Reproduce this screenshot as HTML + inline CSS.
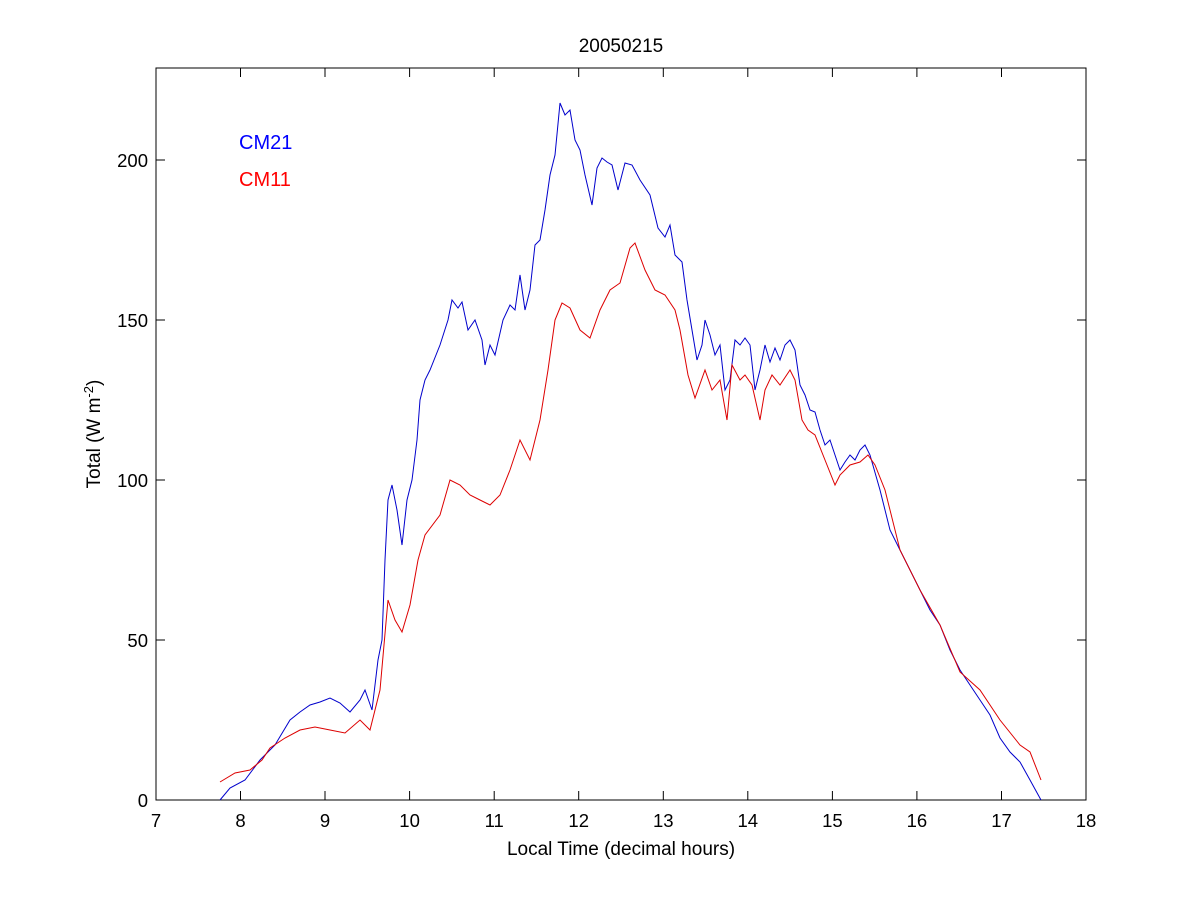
<!DOCTYPE html>
<html><head><style>body{margin:0;background:#fff}svg{display:block}text{font-family:"Liberation Sans",Arial,sans-serif}</style></head>
<body>
<svg width="1200" height="900" xmlns="http://www.w3.org/2000/svg">
<rect width="1200" height="900" fill="#fff"/>
<rect x="156" y="68" width="930" height="732" fill="none" stroke="#000" stroke-width="1"/>
<g stroke="#000" stroke-width="1">
<path d="M156 800v-9M240.5 800v-9M325 800v-9M409.6 800v-9M494.2 800v-9M578.7 800v-9M663.3 800v-9M747.8 800v-9M832.4 800v-9M916.9 800v-9M1001.5 800v-9M1086 800v-9"/>
<path d="M156 68v9M240.5 68v9M325 68v9M409.6 68v9M494.2 68v9M578.7 68v9M663.3 68v9M747.8 68v9M832.4 68v9M916.9 68v9M1001.5 68v9M1086 68v9"/>
<path d="M156 800h9M156 640h9M156 480h9M156 320h9M156 160h9M1086 800h-9M1086 640h-9M1086 480h-9M1086 320h-9M1086 160h-9"/>
</g>
<g font-size="18.5" text-anchor="middle" fill="#000">
<text x="156" y="827">7</text><text x="240.5" y="827">8</text><text x="325" y="827">9</text><text x="409.6" y="827">10</text><text x="494.2" y="827">11</text><text x="578.7" y="827">12</text><text x="663.3" y="827">13</text><text x="747.8" y="827">14</text><text x="832.4" y="827">15</text><text x="916.9" y="827">16</text><text x="1001.5" y="827">17</text><text x="1086" y="827">18</text>
</g>
<g font-size="18.5" text-anchor="end" fill="#000">
<text x="148" y="807">0</text><text x="148" y="647">50</text><text x="148" y="487">100</text><text x="148" y="327">150</text><text x="148" y="167">200</text>
</g>
<text x="621" y="52" font-size="19" text-anchor="middle">20050215</text>
<text x="621" y="855" font-size="19" text-anchor="middle">Local Time (decimal hours)</text>
<text transform="translate(100,434) rotate(-90)" font-size="19" text-anchor="middle">Total (W m<tspan dy="-7" font-size="13">-2</tspan><tspan dy="7">)</tspan></text>
<text x="239" y="149" font-size="20" fill="#0000ff">CM21</text>
<text x="239" y="186" font-size="20" fill="#ff0000">CM11</text>
<polyline fill="none" stroke="#0000cc" stroke-width="1" points="220,800 230,788 245,780 260,760 275,745 290,720 300,712 310,705 320,702 330,698 340,703 350,712 360,700 365,690 372,710 378,660 382,640 385,560 388,500 392,485 397,510 402,545 407,500 412,480 417,440 420,400 425,380 430,370 440,345 448,320 452,300 458,308 462,302 468,330 475,320 482,340 485,365 490,345 495,355 503,320 510,305 515,310 520,275 525,310 530,290 535,245 540,240 545,210 550,175 555,155 560,103 565,115 570,110 575,140 580,150 585,175 592,205 597,168 602,158 607,162 612,165 618,190 625,163 632,165 640,180 650,195 658,228 665,237 670,225 675,255 682,262 687,300 692,330 697,360 702,345 705,320 710,335 715,355 720,345 725,390 730,380 735,340 740,345 745,338 750,345 755,390 760,370 765,345 770,362 775,348 780,360 785,345 790,340 795,350 800,385 805,395 810,410 815,412 820,430 825,445 830,440 835,455 840,470 845,462 850,455 855,460 860,450 865,445 870,455 880,490 890,530 900,550 910,570 920,590 930,610 940,625 950,650 960,670 970,685 980,700 990,715 1000,738 1010,752 1020,762 1030,780 1041,800"/>
<polyline fill="none" stroke="#dd0000" stroke-width="1" points="220,782 235,773 250,770 262,760 270,748 285,738 300,730 315,727 330,730 345,733 360,720 370,730 380,690 388,600 395,620 402,632 410,605 418,560 425,535 440,515 450,480 460,485 470,495 480,500 490,505 500,495 510,470 520,440 530,460 540,420 548,370 555,320 562,303 570,308 580,330 590,338 600,310 610,290 620,283 630,248 635,243 645,270 655,290 665,295 675,310 680,330 688,375 695,398 705,370 712,390 720,380 727,420 732,365 740,380 745,375 752,385 760,420 765,390 772,375 780,385 790,370 795,380 802,420 808,430 815,435 825,460 835,485 840,475 850,465 860,462 868,455 875,465 885,490 900,550 920,590 940,625 960,672 980,690 1000,720 1020,745 1030,752 1041,780"/>
</svg>
</body></html>
